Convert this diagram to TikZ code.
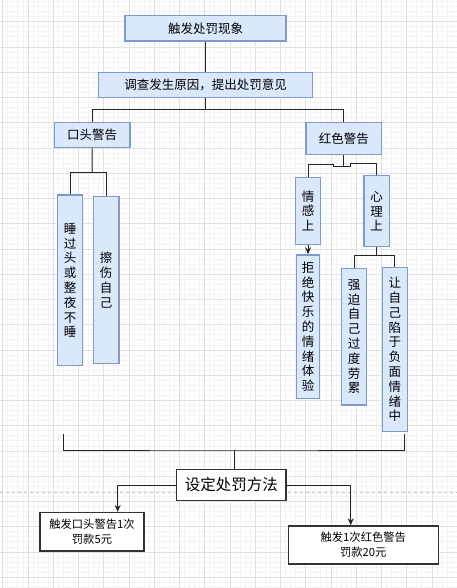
\documentclass[tikz,border=0pt]{standalone}
\usepackage{fontspec}
\newfontfamily\cjk{Noto Sans CJK SC}
\usetikzlibrary{arrows.meta,calc}
\definecolor{boxfill}{HTML}{DAE8FC}
\definecolor{boxline}{HTML}{7C9ACB}
\definecolor{minorline}{HTML}{F3F3F3}
\definecolor{majorline}{HTML}{E0E0E0}
\definecolor{pageline}{HTML}{C4C4C4}

\begin{document}
\begin{tikzpicture}[>={Stealth[length=7pt,width=6pt]},x=1pt,y=-1pt,
  bluebox/.style={draw=boxline,fill=boxfill,line width=1.5pt,inner sep=0pt,align=center,
    font=\cjk\fontsize{12.5}{14.8}\selectfont},
  plainbox/.style={draw=black!80,fill=white,line width=1.5pt,inner sep=0pt,align=center,
    font=\cjk\fontsize{11.3}{15}\selectfont},
  link/.style={line width=1pt,black!85}]
      \useasboundingbox[fill=white] (0,0) rectangle (457,588);
      \foreach \i in {0,...,92} \draw[minorline,line width=0.8pt] ({5.05*\i-2.35},0) -- ++(0,588);
      \foreach \i in {0,...,117} \draw[minorline,line width=0.8pt] (0,{5.05*\i-3.55}) -- ++(457,0);
      \foreach \i in {0,...,18} \draw[majorline,line width=0.8pt] ({25.25*\i+2.7},0) -- ++(0,588);
      \foreach \i in {0,...,22} \draw[majorline,line width=0.8pt] (0,{25.25*\i+21.7}) -- ++(457,0);
      \draw[pageline,line width=0.8pt,dash pattern=on 3pt off 3pt] (0,492.3) -- (457,492.3);
      \coordinate (j1) at (205.5,110);
      \coordinate (j2) at (92,172);
      \coordinate (j3) at (343.8,166.7);
      \coordinate (j4) at (376.7,255.7);
      \coordinate (s1) at (63.3,434);
      \coordinate (s2) at (404,434);
      \coordinate (j5) at (234,450);
      \node[bluebox,minimum width=161pt,minimum height=25.3pt] (top) at (205.5,28.3) {触发处罚现象};
      \node[bluebox,minimum width=214.4pt,minimum height=25.4pt] (cause) at (205.5,85) {调查发生原因，提出处罚意见};
      \node[bluebox,minimum width=75.7pt,minimum height=25pt] (oral) at (92.2,135.2) {口头警告};
      \node[bluebox,minimum width=75.7pt,minimum height=31.6pt] (red) at (343.8,138.5) {红色警告};
      \node[bluebox,minimum width=25.4pt,minimum height=170.3pt] (sleep) at (70,280.2) {睡\\过\\头\\或\\整\\夜\\不\\睡};
      \node[bluebox,minimum width=25.7pt,minimum height=167pt] (hurt) at (106.2,280.2) {擦\\伤\\自\\己};
      \node[bluebox,minimum width=25.4pt,minimum height=67pt] (emo) at (308,210.8) {情\\感\\上};
      \node[bluebox,minimum width=25.3pt,minimum height=71pt] (psy) at (376.7,211.2) {心\\理\\上};
      \node[bluebox,minimum width=22.6pt,minimum height=143.3pt] (joy) at (308,326.7) {拒\\绝\\快\\乐\\的\\情\\绪\\体\\验};
      \node[bluebox,minimum width=25.4pt,minimum height=136.7pt] (tired) at (354,336.7) {强\\迫\\自\\己\\过\\度\\劳\\累};
      \node[bluebox,minimum width=25pt,minimum height=164.4pt] (neg) at (394.8,349.5) {让\\自\\己\\陷\\于\\负\\面\\情\\绪\\中};
      \node[plainbox,minimum width=109.3pt,minimum height=31.4pt,font=\cjk\fontsize{15.5}{18}\selectfont] (method) at (231.3,485) {设定处罚方法};
      \node[plainbox,minimum width=104pt,minimum height=38.3pt] (fine5) at (92,531.8) {触发口头警告1次\\罚款5元};
      \node[plainbox,minimum width=150pt,minimum height=38pt] (fine20) at (363.3,545) {触发1次红色警告\\罚款20元};
      \draw[link] (top) -- (cause);
      \draw[link] (cause.south) -- (j1);
      \draw[link] (j1) -| (oral.north);
      \draw[link] (j1) -| (red.north);
      \draw[link] (oral.south) -- (j2);
      \draw[link] (j2) -| (sleep.north);
      \draw[link] (j2) -| (hurt.north);
      \draw[link] (red.south) -- (j3);
      \draw[link] (j3) -- ++(-10.5,0) -- ++(0,-2.4) -| (emo.north);
      \draw[link] (j3) -- ++(6.9,0) -- ++(0,-3.4) -| (psy.north);
      \draw[link,->] (emo) -- (joy);
      \draw[link] (psy.south) -- (j4);
      \draw[link] (j4) -| (tired.north);
      \draw[link] (j4) -| (neg.north);
      \draw[link] (s1) |- (j5) -| (s2);
      \draw[link] (j5) -- (j5 |- method.north);
      \draw[link,->] (method.west) -| ([xshift=25.7pt]fine5.north);
      \draw[link,->] (method.east) -| ([xshift=-12.6pt]fine20.north);
\end{tikzpicture}
\end{document}
